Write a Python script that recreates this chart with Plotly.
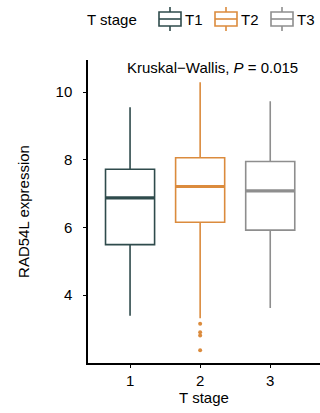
import plotly.graph_objects as go

# Summary statistics of RAD54L expression per T stage
stages = ["T1", "T2", "T3"]
positions = [1, 2, 3]
lower_whisker = [3.39, 3.31, 3.62]
q1 = [5.49, 6.15, 5.92]
median = [6.87, 7.21, 7.08]
q3 = [7.72, 8.06, 7.95]
upper_whisker = [9.55, 10.29, 9.73]
colors = ["#2F4B4C", "#DB8B3D", "#8E8E8E"]

# Outlying samples (T2 only)
outlier_stage = [2, 2, 2, 2]
outlier_values = [3.15, 2.90, 2.80, 2.37]

x_ticks = [1, 2, 3]
y_ticks = [4, 6, 8, 10]

FONT = "Liberation Sans, Arial, sans-serif"
FS = 15
half_width = 0.35

W, H = 320, 413
ML, MR, MT, MB = 88, 0, 60, 50


def px_x(px):
    """Pixel column -> paper x."""
    return (px - ML) / (W - ML - MR)


def px_y(py):
    """Pixel row (from top) -> paper y."""
    return 1 - (py - MT) / (H - MT - MB)


fig = go.Figure()
for i, name in enumerate(stages):
    fig.add_trace(go.Box(
        name=name,
        x=[positions[i]],
        q1=[q1[i]], median=[median[i]], q3=[q3[i]],
        lowerfence=[lower_whisker[i]], upperfence=[upper_whisker[i]],
        width=2 * half_width,
        fillcolor="white",
        line=dict(color=colors[i], width=1.6),
        whiskerwidth=0,
        boxpoints=False,
        showlegend=False,
    ))
    # thicker median bar
    fig.add_trace(go.Scatter(
        x=[positions[i] - half_width, positions[i] + half_width],
        y=[median[i], median[i]],
        mode="lines",
        line=dict(color=colors[i], width=3.2),
        showlegend=False, hoverinfo="skip",
    ))

fig.add_trace(go.Scatter(
    x=outlier_stage, y=outlier_values, mode="markers",
    marker=dict(color=colors[1], size=4),
    showlegend=False, hoverinfo="skip",
))

fig.add_annotation(
    x=2.17, y=1.0, xref="x", yref="paper", yanchor="middle", yshift=-7,
    text="Kruskal\u2212Wallis, <i>P</i> = 0.015", showarrow=False,
    font=dict(family=FONT, size=FS, color="black"),
)

# Legend: title plus one box-glyph key per stage
leg_y, leg_box_h, leg_box_w, leg_stub = 19, 14, 22, 5
leg_x0, leg_step = 159, 56
fig.add_annotation(
    x=px_x(139), y=px_y(leg_y), xref="paper", yref="paper",
    xanchor="right", yanchor="middle", text="T stage", showarrow=False,
    font=dict(family=FONT, size=FS, color="black"),
)
for i, name in enumerate(stages):
    x0 = leg_x0 + i * leg_step
    x1 = x0 + leg_box_w
    xc = (x0 + x1) / 2
    top, bot = leg_y - leg_box_h / 2, leg_y + leg_box_h / 2
    ln = dict(color=colors[i], width=1.6)
    fig.add_shape(type="rect", xref="paper", yref="paper",
                  x0=px_x(x0), x1=px_x(x1), y0=px_y(bot), y1=px_y(top),
                  line=ln, fillcolor="white")
    fig.add_shape(type="line", xref="paper", yref="paper",
                  x0=px_x(x0), x1=px_x(x1), y0=px_y(leg_y), y1=px_y(leg_y), line=ln)
    fig.add_shape(type="line", xref="paper", yref="paper",
                  x0=px_x(xc), x1=px_x(xc), y0=px_y(top - leg_stub), y1=px_y(top), line=ln)
    fig.add_shape(type="line", xref="paper", yref="paper",
                  x0=px_x(xc), x1=px_x(xc), y0=px_y(bot), y1=px_y(bot + leg_stub), line=ln)
    fig.add_annotation(
        x=px_x(x1 + 2), y=px_y(leg_y), xref="paper", yref="paper",
        xanchor="left", yanchor="middle", text=name, showarrow=False,
        font=dict(family=FONT, size=FS, color="black"),
    )

axis_common = dict(
    showline=True, linecolor="black", linewidth=1.5,
    ticks="outside", ticklen=3, tickcolor="black", tickwidth=1,
    showgrid=False, zeroline=False,
    tickfont=dict(family=FONT, size=FS, color="black"),
)

fig.update_layout(
    width=W, height=H,
    margin=dict(l=ML, r=MR, t=MT, b=MB, autoexpand=False),
    paper_bgcolor="white", plot_bgcolor="white",
    font=dict(family=FONT, size=FS, color="black"),
    boxmode="overlay",
    showlegend=False,
    xaxis=dict(
        range=[0.4, 3.71], tickvals=x_ticks, ticktext=[str(v) for v in x_ticks],
        title=dict(text="T stage", font=dict(family=FONT, size=FS), standoff=4),
        **axis_common,
    ),
    yaxis=dict(
        range=[1.99, 10.95], tickvals=y_ticks, ticktext=[str(v) for v in y_ticks],
        title=dict(text="RAD54L expression", font=dict(family=FONT, size=FS), standoff=22),
        ticklabelstandoff=8,
        **axis_common,
    ),
)

fig.write_html("out.html")
